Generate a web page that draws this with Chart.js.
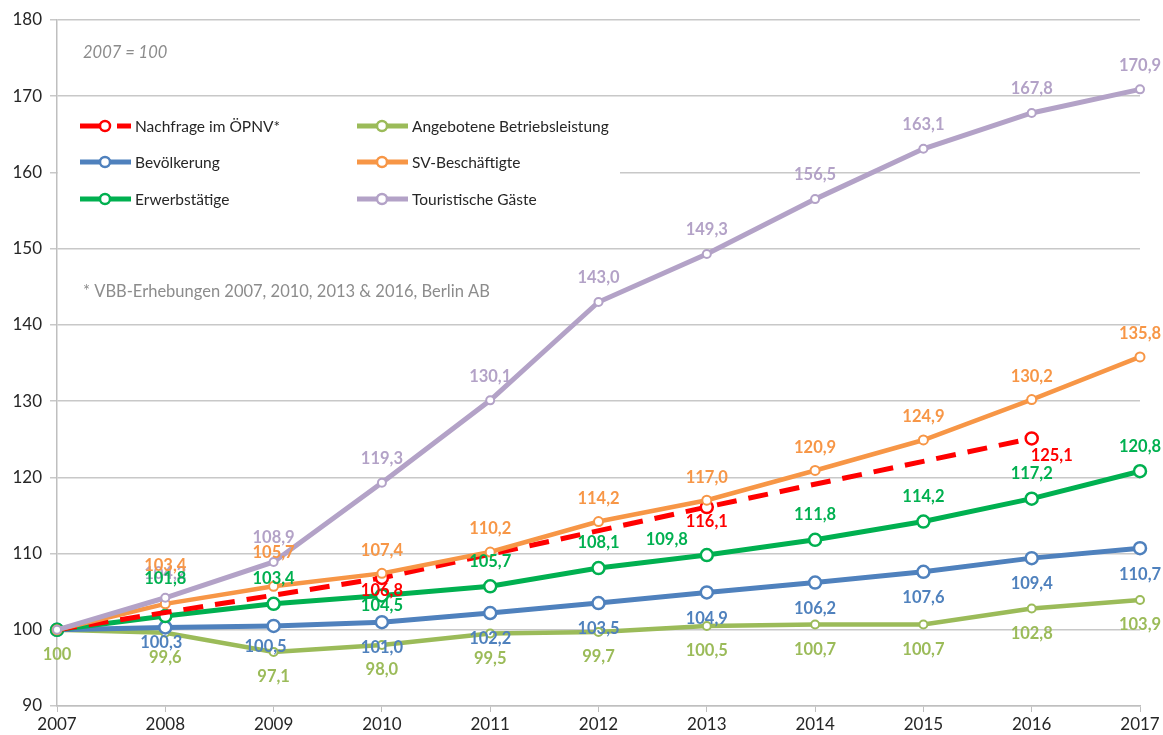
<!DOCTYPE html>
<html>
<head>
<meta charset="utf-8">
<script src="https://cdn.jsdelivr.net/npm/chart.js@4"></script>
<style>
  body { margin: 0; background: #fff; }
</style>
</head>
<body>
<canvas id="myChart" width="1163" height="735"></canvas>
<script>
const years = ['2007', '2008', '2009', '2010', '2011', '2012', '2013', '2014', '2015', '2016', '2017'];
const yTicks = [90, 100, 110, 120, 130, 140, 150, 160, 170, 180];

const nachfrage = [100, null, null, 106.8, null, null, 116.1, null, null, 125.1, null];
const angebot = [100, 99.6, 97.1, 98.0, 99.5, 99.7, 100.5, 100.7, 100.7, 102.8, 103.9];
const bevoelkerung = [100, 100.3, 100.5, 101.0, 102.2, 103.5, 104.9, 106.2, 107.6, 109.4, 110.7];
const svBeschaeftigte = [100, 103.4, 105.7, 107.4, 110.2, 114.2, 117.0, 120.9, 124.9, 130.2, 135.8];
const erwerbstaetige = [100, 101.8, 103.4, 104.5, 105.7, 108.1, 109.8, 111.8, 114.2, 117.2, 120.8];
const touristen = [100, 104.2, 108.9, 119.3, 130.1, 143.0, 149.3, 156.5, 163.1, 167.8, 170.9];

const seriesNames = ['Nachfrage im ÖPNV*', 'Angebotene Betriebsleistung', 'Bevölkerung',
  'SV-Beschäftigte', 'Erwerbstätige', 'Touristische Gäste'];

const FONT = 'Lato, "Open Sans", sans-serif';

// label offsets (dx, dy) for the few labels Excel moved by hand
const shiftNachfrage = { 3: [0, 13], 6: [0, 15], 9: [20, 17] };
const shiftBev = { 1: [-4, 15], 2: [-8, 21] };
const shiftSv = { 1: [0, -38], 2: [0, -34] };
const shiftErw = { 1: [0, -37], 3: [0, 10], 6: [-40, -15] };

function line(label, data, color, opts) {
  return Object.assign({
    label: label,
    data: data,
    borderColor: color,
    backgroundColor: '#ffffff',
    pointBackgroundColor: '#ffffff',
    pointBorderColor: color,
    borderWidth: 5,
    pointRadius: 6,
    pointBorderWidth: 2.5,
    tension: 0,
    fill: false,
    labelColor: color,
    labelDy: -24,
    labelShift: {}
  }, opts);
}

const datasets = [
  line(seriesNames[5], touristen, '#B3A2C7', { order: 1, pointRadius: 4, pointBorderWidth: 2, labelDy: -24 }),
  line(seriesNames[3], svBeschaeftigte, '#F79646', { order: 2, pointRadius: 4.5, pointBorderWidth: 2, borderWidth: 4.5, labelDy: -23, labelShift: shiftSv }),
  line(seriesNames[0], nachfrage, '#FF0000', {
    order: 3, spanGaps: true, borderDash: [20, 12], labelDy: 14, labelShift: shiftNachfrage,
    pointRadius: function (c) { return c.dataIndex === 0 ? 0 : 6; }
  }),
  line(seriesNames[4], erwerbstaetige, '#00B050', { order: 4, labelDy: -25, labelShift: shiftErw }),
  line(seriesNames[2], bevoelkerung, '#4F81BD', { order: 5, labelDy: 26, labelShift: shiftBev }),
  line(seriesNames[1], angebot, '#9BBB59', { order: 6, pointRadius: 4, pointBorderWidth: 2, borderWidth: 4.5, labelDy: 25, showFirst: true })
];

// order in which value labels are painted (later = on top)
const labelOrder = [0, 5, 4, 1, 2, 3];

function fmt(v) {
  if (v === 100) return '100';
  return v.toFixed(1).replace('.', ',');
}

const extras = {
  id: 'extras',
  afterDatasetsDraw(chart) {
    const ctx = chart.ctx;
    ctx.save();

    // value labels
    ctx.font = 'bold 16.5px ' + FONT;
    ctx.textAlign = 'center';
    ctx.textBaseline = 'middle';
    labelOrder.forEach(function (i) {
      const ds = chart.data.datasets[i];
      const meta = chart.getDatasetMeta(i);
      ctx.fillStyle = ds.labelColor;
      meta.data.forEach(function (pt, j) {
        const v = ds.data[j];
        if (v == null) return;
        if (j === 0 && !ds.showFirst) return;
        const off = ds.labelShift[j] || [0, ds.labelDy];
        ctx.fillText(fmt(v), pt.x + off[0], pt.y + off[1]);
      });
    });

    // notes
    ctx.textAlign = 'left';
    ctx.fillStyle = '#8c8c8c';
    ctx.font = 'italic 16.5px ' + FONT;
    ctx.fillText('2007 = 100', 83, 53);
    ctx.font = '16.5px ' + FONT;
    ctx.fillText('* VBB-Erhebungen 2007, 2010, 2013 & 2016, Berlin AB', 83, 292);

    // legend box (covers the gridline behind it)
    ctx.fillStyle = '#ffffff';
    ctx.fillRect(58, 107, 562, 108);
    const pos = [[80, 126], [357, 126], [80, 162], [357, 162], [80, 199], [357, 199]];
    ctx.font = '15.5px ' + FONT;
    seriesNames.forEach(function (name, k) {
      const ds = chart.data.datasets.find(function (d) { return d.label === name; });
      const x = pos[k][0], y = pos[k][1];
      ctx.strokeStyle = ds.borderColor;
      ctx.lineWidth = 5;
      ctx.beginPath();
      if (ds.borderDash) {
        ctx.moveTo(x, y); ctx.lineTo(x + 30, y);
        ctx.moveTo(x + 37, y); ctx.lineTo(x + 51, y);
      } else {
        ctx.moveTo(x, y); ctx.lineTo(x + 51, y);
      }
      ctx.stroke();
      ctx.beginPath();
      ctx.arc(x + 25, y, 5, 0, Math.PI * 2);
      ctx.fillStyle = '#ffffff';
      ctx.fill();
      ctx.lineWidth = 2.5;
      ctx.stroke();
      ctx.fillStyle = '#262626';
      ctx.fillText(name, x + 55, y + 1);
    });

    ctx.restore();
  }
};

const ctx = document.getElementById('myChart').getContext('2d');
const myChart = new Chart(ctx, {
  type: 'line',
  data: {
    labels: years,
    datasets: datasets
  },
  options: {
    responsive: false,
    animation: false,
    layout: { padding: { top: 20, right: 23, left: 0, bottom: 0 } },
    plugins: {
      legend: { display: false },
      tooltip: { enabled: false }
    },
    scales: {
      x: {
        offset: false,
        grid: { drawOnChartArea: false, drawTicks: true, tickLength: 6, color: '#bfbfbf' },
        border: { color: '#bfbfbf', width: 1.5 },
        ticks: { color: '#262626', font: { family: FONT, size: 17 }, padding: 2, maxRotation: 0 },
        afterFit(scale) { scale.height = 29; }
      },
      y: {
        min: 90,
        max: 180,
        afterBuildTicks(scale) { scale.ticks = yTicks.map(function (v) { return { value: v }; }); },
        grid: { color: '#c8c8c8', lineWidth: 1.5, tickLength: 7 },
        border: { color: '#bfbfbf', width: 1.5 },
        ticks: { color: '#262626', font: { family: FONT, size: 17 }, padding: 8 },
        afterFit(scale) { scale.width = 57; }
      }
    }
  },
  plugins: [extras]
});
</script>
</body>
</html>
